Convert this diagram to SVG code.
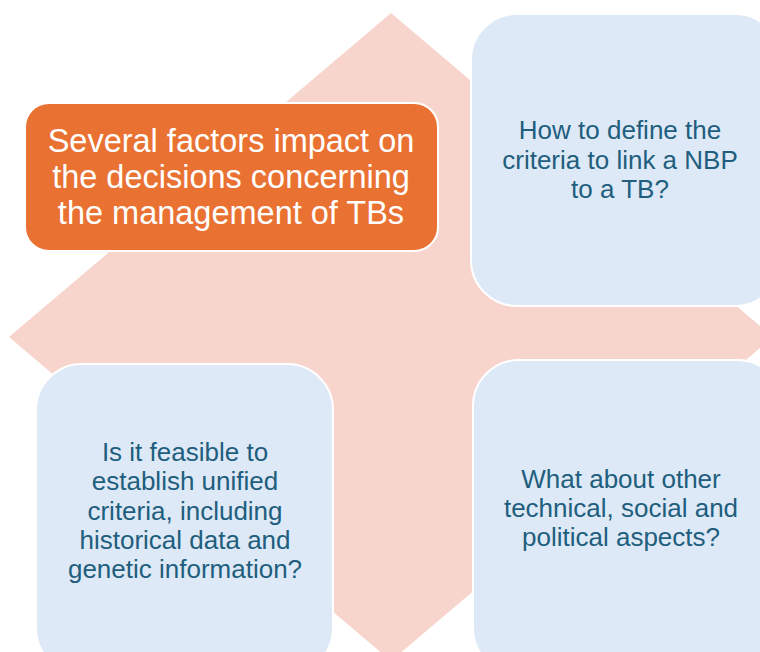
<svg xmlns="http://www.w3.org/2000/svg" width="760" height="652" viewBox="0 0 760 652">
<style>
.box{stroke:#fff;stroke-width:2}
.blue{fill:#DDE9F6}
.orange{fill:#E97132}
.t{font-family:"Liberation Sans",Arial,sans-serif;text-anchor:middle}
.tw{fill:#fff;font-size:32.5px}
.tb{fill:#215E7E;font-size:26px}
</style>
<rect width="760" height="652" fill="#fff"/>
<g id="background">
<polygon points="391,13 773,337 391,661 9,337" fill="#F7D5CD"/>
</g>
<g id="connectors"></g>
<g id="node-main">
<rect class="box orange" x="25" y="103" width="413" height="148" rx="24"/>
<text class="t tw" x="231" y="152">Several factors impact on</text>
<text class="t tw" x="231" y="188">the decisions concerning</text>
<text class="t tw" x="231" y="224">the management of TBs</text>
</g>
<g id="node-q1">
<rect class="box blue" x="471" y="14" width="310" height="292" rx="46"/>
<text class="t tb" x="620" y="139">How to define the</text>
<text class="t tb" x="620" y="168.5">criteria to link a NBP</text>
<text class="t tb" x="620" y="198">to a TB?</text>
</g>
<g id="node-q2">
<rect class="box blue" x="36" y="364" width="297" height="310" rx="46"/>
<text class="t tb" x="185" y="461">Is it feasible to</text>
<text class="t tb" x="185" y="490">establish unified</text>
<text class="t tb" x="185" y="519.5">criteria, including</text>
<text class="t tb" x="185" y="549">historical data and</text>
<text class="t tb" x="185" y="578">genetic information?</text>
</g>
<g id="node-q3">
<rect class="box blue" x="473" y="360" width="310" height="314" rx="46"/>
<text class="t tb" x="621" y="488">What about other</text>
<text class="t tb" x="621" y="517">technical, social and</text>
<text class="t tb" x="621" y="546">political aspects?</text>
</g>
</svg>
